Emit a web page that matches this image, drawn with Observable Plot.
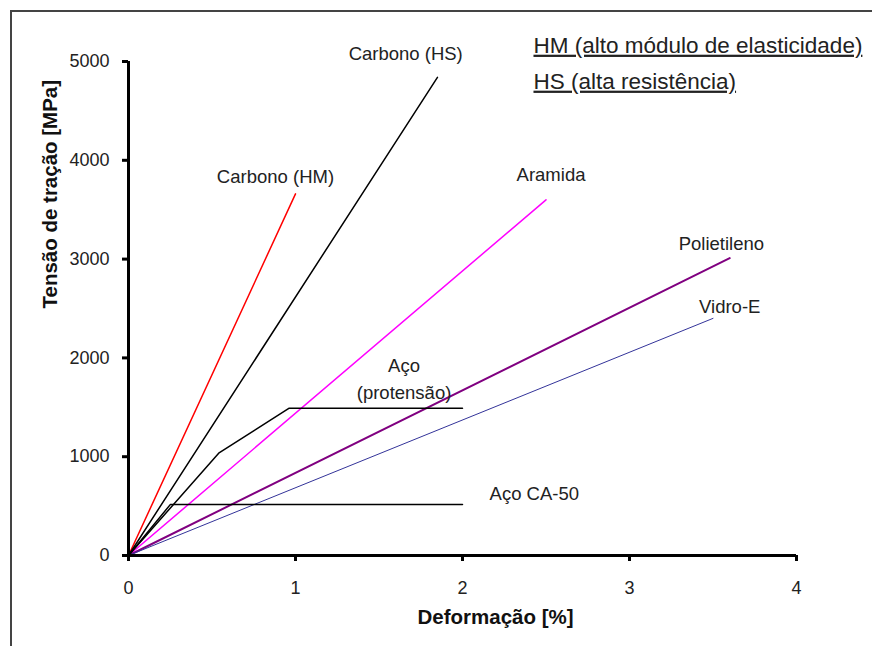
<!DOCTYPE html>
<html>
<head>
<meta charset="utf-8">
<script src="https://cdn.jsdelivr.net/npm/d3@7"></script>
<script src="https://cdn.jsdelivr.net/npm/@observablehq/plot@0.6"></script>
<style>
  html, body { margin: 0; padding: 0; background: #fff; }
  #wrap { position: relative; width: 872px; height: 646px; overflow: hidden; }
  #frame { position: absolute; left: 10px; top: 10px; width: 900px; height: 700px;
           border-left: 2px solid #444; border-top: 2px solid #444; pointer-events: none; }
  svg text { font-family: "Liberation Sans", Arial, sans-serif; }
</style>
</head>
<body>
<div id="wrap"><div id="frame"></div></div>
<script>
// Series: deformation [%] vs tensile stress [MPa]
const series = ["Carbono (HM)", "Carbono (HS)", "Aramida", "Polietileno", "Vidro-E", "Aço (protensão)", "Aço CA-50"];
const seriesX = [
  [0, 1.0],
  [0, 1.85],
  [0, 2.5],
  [0, 3.6],
  [0, 3.5],
  [0, 0.54, 0.96, 2.0],
  [0, 0.25, 2.0]
];
const seriesY = [
  [0, 3660],
  [0, 4840],
  [0, 3600],
  [0, 3010],
  [0, 2400],
  [0, 1035, 1490, 1490],
  [0, 515, 515]
];
const seriesColor = ["#ff0000", "#000000", "#ff00ff", "#800080", "#333399", "#000000", "#000000"];
const seriesWidth = [1.5, 1.5, 1.5, 2, 1, 1.5, 1.5];

// Annotation labels (anchor points in data coordinates)
const labelText = ["Carbono (HS)", "Carbono (HM)", "Aramida", "Polietileno", "Vidro-E", "Aço", "(protensão)", "Aço CA-50"];
const labelX = [1.66, 0.88, 2.53, 3.55, 3.60, 1.65, 1.65, 2.43];
const labelY = [5080, 3826, 3846, 3148, 2510, 1913, 1640, 617];

const noteText = ["HM (alto módulo de elasticidade)", "HS (alta resistência)"];
const noteX = [2.425, 2.425];
const noteY = [5162, 4798];

const xTicks = [0, 1, 2, 3, 4];
const yTicks = [0, 1000, 2000, 3000, 4000, 5000];

const rows = [];
series.forEach((s, i) => seriesX[i].forEach((x, j) => rows.push({s, i, x, y: seriesY[i][j]})));
const labels = labelText.map((t, i) => ({t, x: labelX[i], y: labelY[i]}));
const notes = noteText.map((t, i) => ({t, x: noteX[i], y: noteY[i]}));

const lineMarks = series.map((s, i) =>
  Plot.line(rows.filter(d => d.i === i), {x: "x", y: "y", stroke: seriesColor[i], strokeWidth: seriesWidth[i]})
);

const chart = Plot.plot({
  width: 872,
  height: 646,
  marginLeft: 128,
  marginRight: 76,
  marginTop: 61,
  marginBottom: 91,
  style: {fontFamily: "Liberation Sans, Arial, sans-serif", background: "transparent", fontSize: "18px"},
  x: {type: "linear", domain: [0, 4], axis: null},
  y: {type: "linear", domain: [0, 5000], axis: null},
  marks: [
    ...lineMarks,
    Plot.axisY({ticks: yTicks, tickSize: 6, tickPadding: 13, fontSize: 18, fill: "#222", strokeWidth: 3, stroke: "#000", label: null, tickFormat: d => String(d)}),
    Plot.axisX({ticks: xTicks, tickSize: 6, tickPadding: 20, fontSize: 18, fill: "#222", strokeWidth: 3, stroke: "#000", label: null, tickFormat: d => String(d)}),
    Plot.ruleX([0], {y1: 0, y2: 5000, stroke: "#000", strokeWidth: 3}),
    Plot.ruleY([0], {x1: 0, x2: 4, stroke: "#000", strokeWidth: 3}),
    Plot.text(["Tensão de tração [MPa]"], {frameAnchor: "left", rotate: -90, dx: -78, fontSize: 20.5, fontWeight: "bold", fill: "#111"}),
    Plot.text(["Deformação [%]"], {frameAnchor: "bottom", dx: 33, dy: 68, fontSize: 20.5, fontWeight: "bold", fill: "#111"}),
    Plot.text(labels, {x: "x", y: "y", text: "t", fontSize: 18.5, fill: "#222"}),
    Plot.text(notes, {x: "x", y: "y", text: "t", textAnchor: "start", fontSize: 22.5, fill: "#222", className: "note"})
  ]
});
document.getElementById("wrap").prepend(chart);
d3.select(chart).selectAll(".note text").style("text-decoration", "underline");
</script>
</body>
</html>
